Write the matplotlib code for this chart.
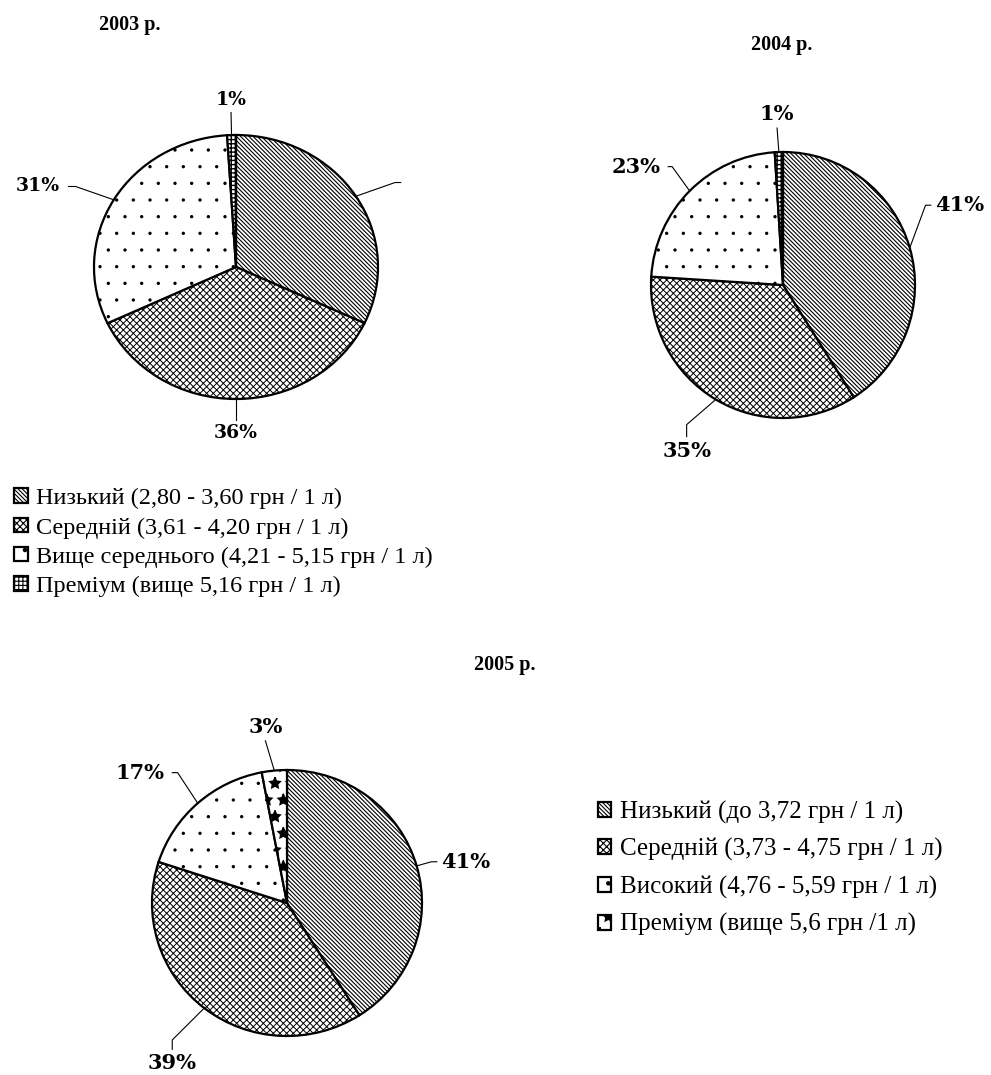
import numpy as np
import matplotlib
matplotlib.use('Agg')
import matplotlib.pyplot as plt

plt.rcParams['hatch.linewidth'] = 0.8

# Data
titles = ['2003 р.', '2004 р.', '2005 р.']
shares_2003 = [32, 36, 31, 1]
shares_2004 = [41, 35, 23, 1]
shares_2005 = [41, 39, 17, 3]
show_2003 = [False, True, True, True]   # label of the first slice is missing in the source
show_2004 = [True, True, True, True]
show_2005 = [True, True, True, True]

legend_2003 = ['Низький (2,80 - 3,60 грн / 1 л)',
               'Середній (3,61 - 4,20 грн / 1 л)',
               'Вище середнього (4,21 - 5,15 грн / 1 л)',
               'Преміум (вище 5,16 грн / 1 л)']
legend_2005 = ['Низький (до 3,72 грн / 1 л)',
               'Середній (3,73 - 4,75 грн / 1 л)',
               'Високий (4,76 - 5,59 грн / 1 л)',
               'Преміум (вище 5,6 грн /1 л)']

hatches = ['\\' * 8, 'xxxxx', '.', '++++']
hatches_2005 = ['\\' * 8, 'xxxxx', '.', '*']
hatch_lw = [0.8, 0.7, 0.0, 1.0]

W, H = 991, 1075
fig = plt.figure(figsize=(W / 100, H / 100), dpi=100)


def pie_axes(cx, cy, rx, ry):
    # pixel box -> figure fraction
    return fig.add_axes([(cx - rx) / W, 1 - (cy + ry) / H, 2 * rx / W, 2 * ry / H])


def draw_pie(ax, values, hatch_list, show, layout, fsize):
    wedges, _ = ax.pie(values, startangle=90, counterclock=False,
                       colors=['white'] * len(values),
                       wedgeprops=dict(edgecolor='black', linewidth=1.6))
    for w, h, lw in zip(wedges, hatch_list, hatch_lw):
        w.set_hatch(h)
        if hasattr(w, 'set_hatch_linewidth'):
            w.set_hatch_linewidth(lw)
        else:
            w._hatch_linewidth = lw
    ax.set_aspect('auto')
    ax.set_xlim(-1, 1)
    ax.set_ylim(-1, 1)
    ax.axis('off')
    for w, v, s, (ex, ey, side, stub) in zip(wedges, values, show, layout):
        mid = np.deg2rad((w.theta1 + w.theta2) / 2)
        axx, ayy = np.cos(mid), np.sin(mid)
        xs, ys = [axx, ex], [ayy, ey]
        if side == 'r':
            xs.append(ex + stub); ys.append(ey)
            tx, ty, ha, va = ex + stub + 0.03, ey, 'left', 'center'
        elif side == 'l':
            xs.append(ex - stub); ys.append(ey)
            tx, ty, ha, va = ex - stub - 0.06, ey, 'right', 'center'
        elif side == 'd':
            xs.append(ex); ys.append(ey - stub)
            tx, ty, ha, va = ex, ey - stub - 0.03, 'center', 'top'
        else:
            tx, ty, ha, va = ex, ey + 0.03, 'center', 'bottom'
        ax.plot(xs, ys, color='black', lw=0.8, clip_on=False)
        if s:
            ax.text(tx, ty, f'{v}%', ha=ha, va=va, fontsize=fsize,
                    family='DejaVu Serif', fontweight='bold')
    return wedges


# 2003
ax1 = pie_axes(236, 267, 142, 132)
lay1 = [(1.12, 0.64, 'r', 0.04), (0.0, -1.16, 'd', 0.0),
        (-1.13, 0.61, 'l', 0.05), (-0.035, 1.17, 'u', 0.0)]
w1 = draw_pie(ax1, shares_2003, hatches, show_2003, lay1, 13.5)
fig.text(130 / W, 1 - 25 / H, titles[0], ha='center', va='center',
         fontsize=14.5, fontweight='bold', family='Liberation Serif')

# 2004
ax2 = pie_axes(783, 285, 132, 133)
lay2 = [(1.08, 0.60, 'r', 0.04), (-0.73, -1.05, 'd', 0.09),
        (-0.84, 0.89, 'l', 0.03), (-0.045, 1.18, 'u', 0.0)]
draw_pie(ax2, shares_2004, hatches, show_2004, lay2, 15)
fig.text(782 / W, 1 - 45 / H, titles[1], ha='center', va='center',
         fontsize=14.5, fontweight='bold', family='Liberation Serif')

# 2005
ax3 = pie_axes(287, 903, 135, 133)
lay3 = [(1.07, 0.31, 'r', 0.04), (-0.85, -1.03, 'd', 0.07),
        (-0.81, 0.98, 'l', 0.04), (-0.16, 1.22, 'u', 0.0)]
w3 = draw_pie(ax3, shares_2005, hatches_2005, show_2005, lay3, 15)
fig.text(505 / W, 1 - 665 / H, titles[2], ha='center', va='center',
         fontsize=14.5, fontweight='bold', family='Liberation Serif')

# Legends
fig.legend(w1, legend_2003, loc='upper left',
           bbox_to_anchor=(2 / W, 1 - 476 / H), frameon=False,
           handlelength=0.55, handleheight=0.55, handletextpad=0.35,
           labelspacing=0.33, borderpad=0,
           prop={'family': 'Liberation Serif', 'size': 17.5})
fig.legend(w3, legend_2005, loc='upper left',
           bbox_to_anchor=(585 / W, 1 - 788 / H), frameon=False,
           handlelength=0.55, handleheight=0.55, handletextpad=0.35,
           labelspacing=0.58, borderpad=0,
           prop={'family': 'Liberation Serif', 'size': 18})

plt.savefig('out.png', dpi=100)
